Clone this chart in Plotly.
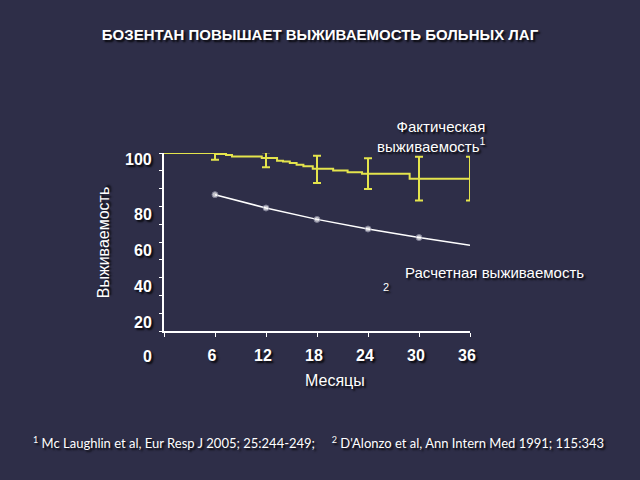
import plotly.graph_objects as go

# Kaplan-Meier steps, actual survival on bosentan (%)
km_months = [0, 6.0, 7.3, 8.0, 11.5, 13.3, 14.0, 14.8, 15.6, 16.4, 17.5, 19.9, 21.6, 23.3, 28.9, 36]
km_surv = [100, 99.4, 98.9, 98.1, 97.2, 95.7, 95.2, 94.4, 93.4, 92.6, 91.1, 90.2, 89.2, 88.3, 85.5, 85.5]

# error bars on the actual survival curve
ci_months = [6, 12, 18, 24, 30, 36]
ci_center = [98.3, 96.2, 90.8, 88.4, 85.6, 85.6]
ci_err = [2.1, 4.2, 7.6, 8.6, 12.3, 12.3]

# predicted survival (NIH equation)
pred_months = [6, 12, 18, 24, 30, 36]
pred_surv = [76.6, 69.1, 62.7, 57.3, 52.5, 48.2]

x_ticks = [0, 6, 12, 18, 24, 30, 36]
x_tick_labels = ["", "6", "12", "18", "24", "30", "36"]
y_tick_labels = ["100", "80", "60", "40", "20", "0"]

BG = "#2e2e48"
YEL = "#e4e44c"
SHADOW = "2px 2px 2px rgba(0,0,0,0.85)"
SANS = "Liberation Sans, Arial"

# plot area in pixels: x 164..470, y 331 (bottom) .. 152.5 (top)
L, R, B, T = 164, 470, 331, 152.5


def px(x):
    return (x - L) / (R - L)


def py(y):
    return (B - y) / (B - T)


fig = go.Figure()

fig.add_trace(go.Scatter(
    x=km_months, y=km_surv, mode="lines", line_shape="hv",
    line=dict(color=YEL, width=2), hoverinfo="skip", showlegend=False))

fig.add_trace(go.Scatter(
    x=ci_months, y=ci_center, mode="markers",
    marker=dict(size=1, color=YEL, opacity=0),
    error_y=dict(type="data", array=ci_err, color=YEL, thickness=2, width=4),
    showlegend=False))

fig.add_trace(go.Scatter(
    x=pred_months, y=pred_surv, mode="lines+markers",
    line=dict(color="white", width=1.5),
    marker=dict(size=[6, 6, 6, 6, 6, 0], color="white",
                line=dict(color="#9a9ab0", width=1)),
    showlegend=False))


def label(x, y, text, size=15, **kw):
    d = dict(x=px(x), y=py(y), xref="paper", yref="paper", text=text,
             xanchor="center", yanchor="middle", showarrow=False,
             font=dict(family=SANS, size=size, color="white", shadow=SHADOW))
    d.update(kw)
    return d


BOLD_NUM = dict(family=SANS, size=16, color="white", weight="bold", shadow=SHADOW)

# y labels sit where the slide put them (not on the true grid)
y_label_px = [159, 214, 250, 286, 322, 357]
annotations = []
for lab, yy in zip(y_tick_labels, y_label_px):
    annotations.append(label(154, yy, lab, xanchor="right", font=BOLD_NUM))

annotations += [
    label(103, 242, "Выживаемость", size=16, textangle=-90),
    label(335, 381, "Месяцы", size=16),
    label(488, 136, "Фактическая<br>выживаемость<sup>1</sup>", align="right", xanchor="right"),
    label(403, 272, "Расчетная выживаемость", xanchor="left"),
    label(386, 287, "2", size=11),
    label(318.5, 443,
          "<sup>1</sup> Mc Laughlin et al, Eur Resp J 2005; 25:244-249;&nbsp;&nbsp;&nbsp;&nbsp;&nbsp;"
          "<sup>2</sup> D'Alonzo et al, Ann Intern Med 1991; 115:343",
          font=dict(family="Comic Sans MS, Lato", size=13, color="white", shadow=SHADOW)),
]

fig.update_layout(
    width=640, height=480,
    paper_bgcolor=BG, plot_bgcolor=BG,
    margin=dict(l=L, r=640 - R, t=T, b=480 - B),
    title=dict(text="БОЗЕНТАН ПОВЫШАЕТ ВЫЖИВАЕМОСТЬ БОЛЬНЫХ ЛАГ",
               x=0.5, xanchor="center", y=1 - 35 / 480, yanchor="middle",
               font=dict(family=SANS, size=15, color="white", weight="bold", shadow=SHADOW)),
    xaxis=dict(range=[0, 36], showgrid=False, zeroline=False,
               showline=True, linecolor="white", linewidth=2,
               ticks="outside", ticklen=4, tickcolor="white", tickwidth=1,
               tickvals=x_ticks, ticktext=x_tick_labels,
               ticklabelstandoff=5, ticklabelshift=-3,
               tickfont=BOLD_NUM),
    yaxis=dict(range=[0, 100], showgrid=False, zeroline=False,
               showline=True, linecolor="white", linewidth=2,
               ticks="outside", ticklen=3, tickcolor="white", tickwidth=1,
               dtick=10, showticklabels=False),
    annotations=annotations,
)

fig.write_html("out.html", config={"displayModeBar": False},
               post_script="document.body.style.margin='0';")
